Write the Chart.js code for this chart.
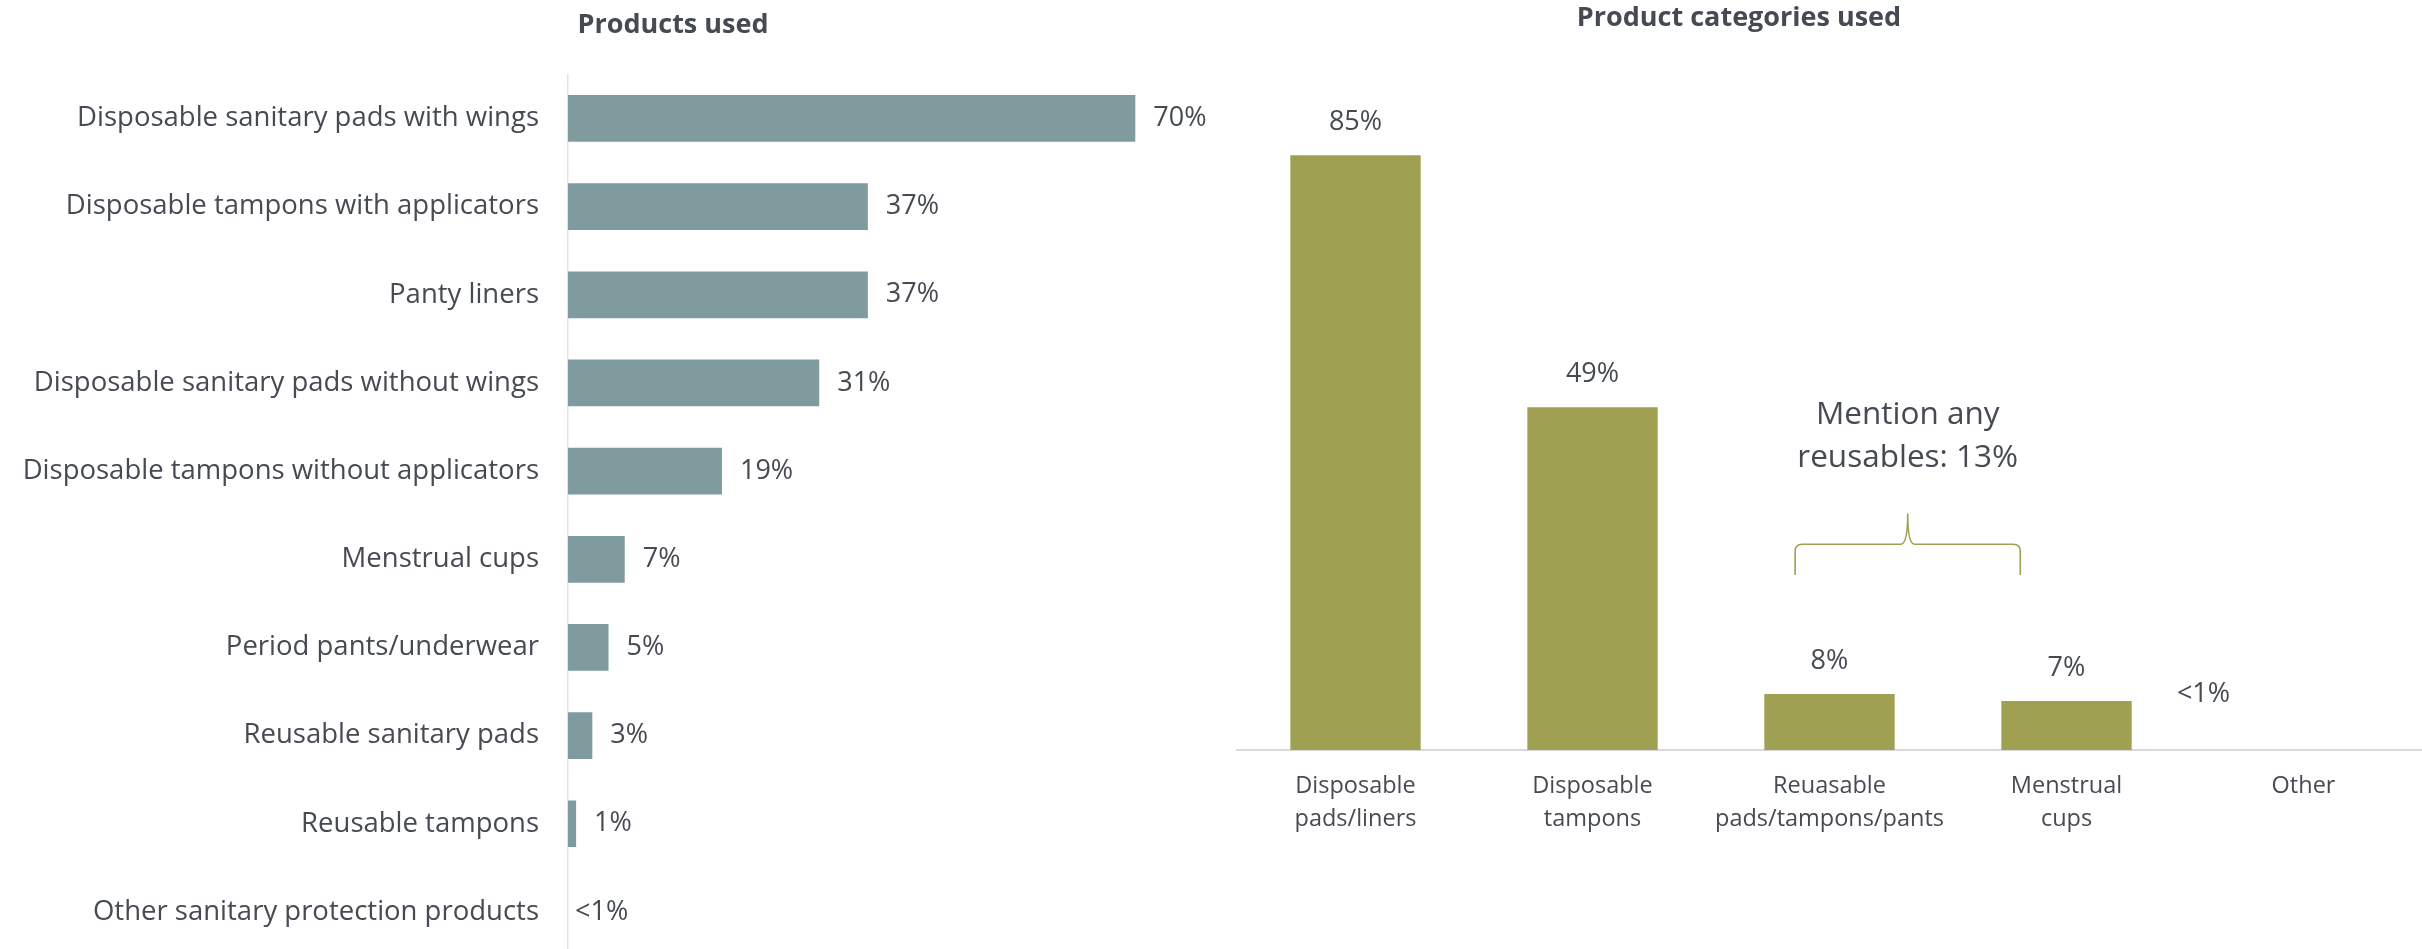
<!DOCTYPE html>
<html>
<head>
<meta charset="utf-8">
<script src="https://cdn.jsdelivr.net/npm/chart.js@4.4.1/dist/chart.umd.min.js"></script>
<style>
  body { margin: 0; background: #fff; width: 2422px; height: 949px; position: relative; overflow: hidden; }
  canvas { position: absolute; top: 0; }
  #productsCanvas { left: 0; }
  #categoriesCanvas { left: 1056px; }
</style>
</head>
<body>
<canvas id="productsCanvas" width="1346" height="956"></canvas>
<canvas id="categoriesCanvas" width="1366" height="949"></canvas>
<script>
const FONT = '"Open Sans", "Noto Sans", sans-serif';
const TEXT_COLOR = '#464a53';

// left panel: individual products
const productNames = [
  'Disposable sanitary pads with wings',
  'Disposable tampons with applicators',
  'Panty liners',
  'Disposable sanitary pads without wings',
  'Disposable tampons without applicators',
  'Menstrual cups',
  'Period pants/underwear',
  'Reusable sanitary pads',
  'Reusable tampons',
  'Other sanitary protection products'
];
const productValues = [70, 37, 37, 31, 19, 7, 5, 3, 1, 0];
const productValueText = ['70%', '37%', '37%', '31%', '19%', '7%', '5%', '3%', '1%', '<1%'];

// right panel: grouped categories
const categoryNames = [
  ['Disposable', 'pads/liners'],
  ['Disposable', 'tampons'],
  ['Reuasable', 'pads/tampons/pants'],
  ['Menstrual', 'cups'],
  'Other'
];
const categoryValues = [85, 49, 8, 7, 0];
const categoryValueText = ['85%', '49%', '8%', '7%', '<1%'];
const reusableNote = ['Mention any', 'reusables: 13%'];

// value text next to / above each bar
const valueLabels = {
  id: 'valueLabels',
  afterDatasetsDraw(chart, args, opts) {
    const ctx = chart.ctx;
    const meta = chart.getDatasetMeta(0);
    const values = chart.data.datasets[0].data;
    ctx.save();
    ctx.font = opts.size + 'px ' + FONT;
    ctx.fillStyle = TEXT_COLOR;
    ctx.textBaseline = 'middle';
    meta.data.forEach((bar, i) => {
      const text = opts.texts[i];
      if (opts.horizontal) {
        ctx.textAlign = 'left';
        ctx.fillText(text, bar.x + (values[i] === 0 ? 7 : 18), bar.y);
      } else {
        ctx.textAlign = 'center';
        if (values[i] === 0) {
          // nothing to sit on, so the label floats to the left of the slot
          ctx.fillText(text, bar.x - 100, bar.y - 56);
        } else {
          ctx.fillText(text, bar.x, bar.y - 33);
        }
      }
    });
    ctx.restore();
  }
};

// curly brace over the two reusable bars plus its caption
const reusableBrace = {
  id: 'reusableBrace',
  afterDatasetsDraw(chart) {
    const ctx = chart.ctx;
    const xs = chart.scales.x;
    const ys = chart.scales.y;
    const step = xs.getPixelForValue(1) - xs.getPixelForValue(0);
    const mid = (xs.getPixelForValue(2) + xs.getPixelForValue(3)) / 2 - 0.17 * step;
    const half = 0.475 * step;
    const left = mid - half, right = mid + half;
    const yLine = ys.getPixelForValue(29.4);
    const yEnd = ys.getPixelForValue(25);
    const yTip = ys.getPixelForValue(33.8);
    const r = 7;

    ctx.save();
    ctx.strokeStyle = '#a0a052';
    ctx.lineWidth = 1.6;
    ctx.beginPath();
    ctx.moveTo(left, yEnd);
    ctx.lineTo(left, yLine + r);
    ctx.quadraticCurveTo(left, yLine, left + r, yLine);
    ctx.lineTo(mid - r, yLine);
    ctx.quadraticCurveTo(mid, yLine, mid, yTip);
    ctx.quadraticCurveTo(mid, yLine, mid + r, yLine);
    ctx.lineTo(right - r, yLine);
    ctx.quadraticCurveTo(right, yLine, right, yLine + r);
    ctx.lineTo(right, yEnd);
    ctx.stroke();

    ctx.font = '31.5px ' + FONT;
    ctx.fillStyle = TEXT_COLOR;
    ctx.textAlign = 'center';
    ctx.textBaseline = 'middle';
    ctx.fillText(reusableNote[0], mid, ys.getPixelForValue(47.9));
    ctx.fillText(reusableNote[1], mid, ys.getPixelForValue(41.7));
    ctx.restore();
  }
};

new Chart(document.getElementById('productsCanvas'), {
  type: 'bar',
  data: {
    labels: productNames,
    datasets: [{
      data: productValues,
      backgroundColor: '#809b9e',
      barPercentage: 0.53,
      categoryPercentage: 1
    }]
  },
  options: {
    indexAxis: 'y',
    responsive: false,
    animation: false,
    layout: { padding: 0 },
    plugins: {
      legend: { display: false },
      tooltip: { enabled: false },
      title: {
        display: true,
        text: 'Products used',
        color: TEXT_COLOR,
        font: { family: FONT, size: 27, weight: 'bold' },
        padding: { top: 9, bottom: 33 }
      },
      valueLabels: { horizontal: true, size: 27, texts: productValueText }
    },
    scales: {
      x: { display: false, min: 0, max: 96 },
      y: {
        grid: { display: false, drawTicks: false },
        border: { color: '#e4e4e4', width: 1.5 },
        ticks: {
          color: TEXT_COLOR,
          font: { family: FONT, size: 27.5 },
          padding: 29
        },
        afterFit(scale) {
          // let the bar band run the full height of the panel
          scale.width = 568;
          scale.paddingTop = 0;
          scale.paddingBottom = 0;
        }
      }
    }
  },
  plugins: [valueLabels]
});

new Chart(document.getElementById('categoriesCanvas'), {
  type: 'bar',
  data: {
    labels: categoryNames,
    datasets: [{
      data: categoryValues,
      backgroundColor: '#a0a052',
      barPercentage: 0.55,
      categoryPercentage: 1
    }]
  },
  options: {
    responsive: false,
    animation: false,
    layout: { padding: 0 },
    plugins: {
      legend: { display: false },
      tooltip: { enabled: false },
      title: {
        display: true,
        text: 'Product categories used',
        color: TEXT_COLOR,
        font: { family: FONT, size: 27, weight: 'bold' },
        padding: { top: 2, bottom: 16 }
      },
      valueLabels: { horizontal: false, size: 27, texts: categoryValueText }
    },
    scales: {
      x: {
        grid: { display: false, drawTicks: false },
        border: { color: '#d9d9d9', width: 2 },
        ticks: {
          color: TEXT_COLOR,
          font: { family: FONT, size: 23.5, lineHeight: 1.4 },
          padding: 20,
          maxRotation: 0,
          minRotation: 0,
          autoSkip: false
        },
        afterFit(scale) { scale.height = 199; }
      },
      y: {
        min: 0,
        max: 100,
        grid: { display: false, drawTicks: false },
        border: { display: false },
        ticks: { display: false },
        afterFit(scale) { scale.width = 181; }
      }
    }
  },
  plugins: [valueLabels, reusableBrace]
});
</script>
</body>
</html>
